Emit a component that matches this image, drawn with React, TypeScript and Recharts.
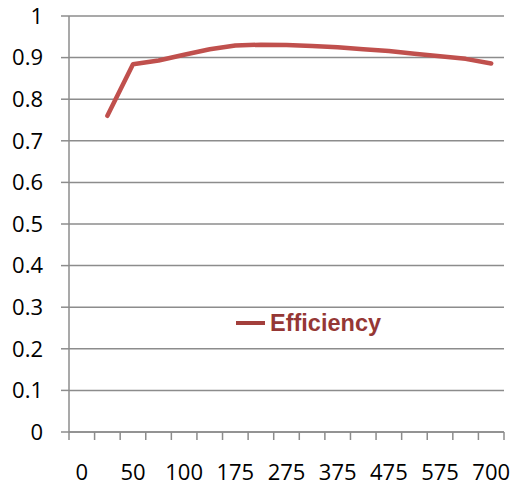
import React from 'react';
import { LineChart, Line, XAxis, YAxis, CartesianGrid, Legend } from 'recharts';

// x categories (only every other one is labelled on the axis)
const categories = ['0', '25', '50', '75', '100', '125', '175', '225', '275', '325', '375', '425', '475', '525', '575', '625', '700'];
// efficiency per category, first one has no point
const efficiency = [null, 0.76, 0.884, 0.893, 0.907, 0.92, 0.929, 0.931, 0.93, 0.928, 0.925, 0.92, 0.916, 0.909, 0.903, 0.897, 0.886];
const yTicks = [0, 0.1, 0.2, 0.3, 0.4, 0.5, 0.6, 0.7, 0.8, 0.9, 1];
const labelTicks = [0, 2, 4, 6, 8, 10, 12, 14, 16];

const FONT = '"Open Sans", sans-serif';
const GRID = '#8c8c8c';
const RED = '#C0504D';

const NoLabel = () => <g />;

const App: React.FC = () => {
  const data = categories.map((cat, i) => ({ idx: i, cat, eff: efficiency[i] }));
  const n = categories.length;
  const domain: [number, number] = [-0.5, n - 0.5];
  // tick marks sit between the categories
  const markTicks = Array.from({ length: n + 1 }, (_, i) => i - 0.5);

  return (
    <div style={{ position: 'absolute', left: 0, top: 0, background: '#fff' }}>
      <LineChart width={513} height={487} data={data} margin={{ top: 16, right: 9, bottom: 0, left: 0 }}>
        <CartesianGrid vertical={false} stroke={GRID} strokeWidth={1.5} />
        <XAxis
          xAxisId={0}
          type="number"
          dataKey="idx"
          domain={domain}
          ticks={markTicks}
          tick={<NoLabel />}
          tickSize={8}
          height={10}
          interval={0}
          stroke={GRID}
          strokeWidth={1.5}
        />
        <XAxis
          xAxisId={1}
          type="number"
          dataKey="idx"
          domain={domain}
          ticks={labelTicks}
          tickFormatter={(v: number) => categories[v]}
          axisLine={false}
          tickLine={false}
          tickSize={0}
          tickMargin={22}
          height={45}
          interval={0}
          tick={{ fill: '#000', fontSize: 22, fontFamily: FONT }}
        />
        <YAxis
          domain={[0, 1]}
          ticks={yTicks}
          width={69}
          tickSize={8}
          tickMargin={18}
          stroke={GRID}
          strokeWidth={1.5}
          interval={0}
          tickFormatter={(v: number) => String(v)}
          tick={{ fill: '#000', fontSize: 22, fontFamily: FONT }}
        />
        <Legend
          layout="vertical"
          align="center"
          verticalAlign="middle"
          wrapperStyle={{ left: 236, top: 307, width: 180 }}
          content={() => (
            <div style={{ display: 'flex', alignItems: 'center', fontFamily: '"Liberation Sans", Arial, sans-serif', fontWeight: 'bold', fontSize: 23.5, lineHeight: '32px', color: '#953735' }}>
              <span style={{ display: 'inline-block', width: 29, height: 4, background: '#a33f3c', marginRight: 5 }} />
              Efficiency
            </div>
          )}
        />
        <Line
          xAxisId={0}
          dataKey="eff"
          name="Efficiency"
          stroke={RED}
          strokeWidth={4.5}
          strokeLinecap="round"
          strokeLinejoin="round"
          dot={false}
          activeDot={false}
          type="linear"
          isAnimationActive={false}
        />
      </LineChart>
    </div>
  );
};

export default App;
